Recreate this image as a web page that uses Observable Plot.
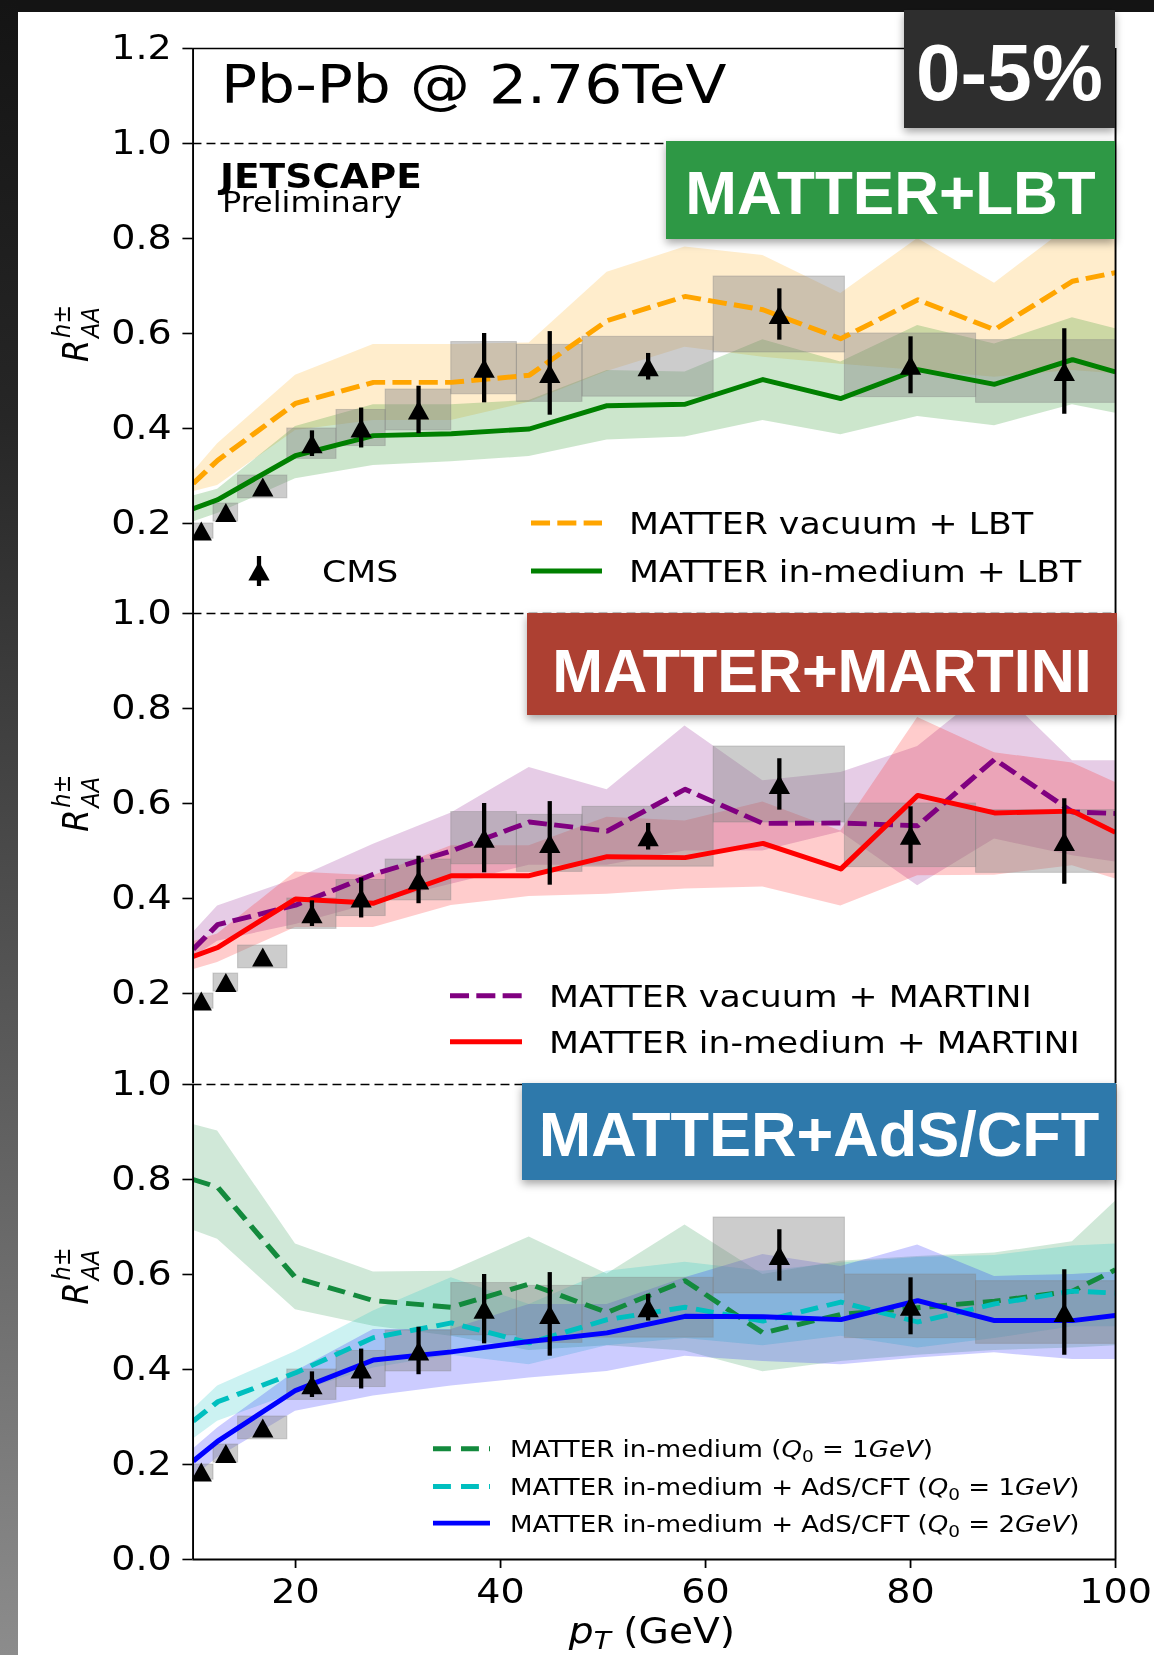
<!DOCTYPE html>
<html><head><meta charset="utf-8">
<script src="https://cdn.jsdelivr.net/npm/d3@7"></script>
<script src="https://cdn.jsdelivr.net/npm/@observablehq/plot@0.6"></script>
<style>
html,body{margin:0;padding:0;background:#fff;}
#page{position:relative;width:1154px;height:1655px;overflow:hidden;background:#fff;}
#topstrip{position:absolute;left:0;top:0;width:1154px;height:12px;background:#141414;}
#leftstrip{position:absolute;left:0;top:0;width:18px;height:1655px;background:linear-gradient(#141414,#262626 25%,#555 60%,#8c8c8c);}
#stretch{position:absolute;left:0;top:0;width:1030.357px;height:1655px;transform:scaleX(1.12);transform-origin:0 0;}
#stretch svg{position:absolute;left:0;}
#overlay{position:absolute;left:0;top:0;}
</style></head><body>
<div id="page"><div id="stretch"></div><div id="topstrip"></div><div id="leftstrip"></div><svg id="overlay" width="1154" height="1655"></svg></div>
<script>
// ---------------- data ----------------
const modelPt = [10, 12.4, 20, 27.6, 35.2, 42.8, 50.4, 58, 65.6, 73.2, 80.7, 88.2, 95.8, 100];

// MATTER+LBT panel
const lbtVac   = [0.284, 0.333, 0.453, 0.497, 0.497, 0.512, 0.627, 0.678, 0.650, 0.589, 0.671, 0.608, 0.710, 0.728];
const lbtVacHi = [0.308, 0.368, 0.512, 0.577, 0.577, 0.580, 0.729, 0.782, 0.764, 0.684, 0.800, 0.706, 0.830, 0.850];
const lbtVacLo = [0.267, 0.280, 0.396, 0.417, 0.417, 0.455, 0.520, 0.571, 0.550, 0.535, 0.522, 0.508, 0.522, 0.515];
const lbtMed   = [0.231, 0.250, 0.343, 0.385, 0.389, 0.399, 0.448, 0.451, 0.503, 0.463, 0.524, 0.493, 0.545, 0.519];
const lbtMedHi = [0.258, 0.272, 0.404, 0.450, 0.450, 0.459, 0.522, 0.519, 0.587, 0.540, 0.617, 0.578, 0.633, 0.610];
const lbtMedLo = [0.203, 0.221, 0.294, 0.322, 0.330, 0.341, 0.376, 0.382, 0.417, 0.387, 0.425, 0.406, 0.450, 0.432];

// MATTER+MARTINI panel
const martiniVac   = [0.293, 0.345, 0.386, 0.451, 0.500, 0.561, 0.542, 0.630, 0.558, 0.559, 0.553, 0.693, 0.582, 0.579];
const martiniVacHi = [0.328, 0.384, 0.441, 0.514, 0.580, 0.676, 0.629, 0.763, 0.648, 0.665, 0.720, 0.850, 0.690, 0.690];
const martiniVacLo = [0.275, 0.310, 0.345, 0.390, 0.430, 0.470, 0.470, 0.500, 0.500, 0.540, 0.427, 0.525, 0.490, 0.477];
const martiniMed   = [0.278, 0.297, 0.399, 0.390, 0.448, 0.448, 0.488, 0.486, 0.516, 0.462, 0.617, 0.580, 0.584, 0.539];
const martiniMedHi = [0.309, 0.325, 0.456, 0.448, 0.511, 0.511, 0.571, 0.563, 0.603, 0.542, 0.781, 0.707, 0.685, 0.644];
const martiniMedLo = [0.250, 0.265, 0.339, 0.339, 0.385, 0.404, 0.409, 0.420, 0.424, 0.384, 0.448, 0.449, 0.469, 0.441];

// MATTER+AdS/CFT panel
const adsMatter   = [0.800, 0.784, 0.593, 0.545, 0.531, 0.580, 0.520, 0.587, 0.477, 0.516, 0.530, 0.544, 0.565, 0.610];
const adsMatterHi = [0.916, 0.902, 0.664, 0.605, 0.607, 0.679, 0.601, 0.704, 0.600, 0.628, 0.638, 0.645, 0.669, 0.754];
const adsMatterLo = [0.693, 0.674, 0.526, 0.491, 0.470, 0.440, 0.450, 0.439, 0.395, 0.417, 0.430, 0.440, 0.445, 0.450];
const adsQ1   = [0.291, 0.332, 0.393, 0.467, 0.498, 0.456, 0.505, 0.531, 0.502, 0.542, 0.500, 0.538, 0.565, 0.561];
const adsQ1Hi = [0.316, 0.365, 0.438, 0.523, 0.593, 0.537, 0.607, 0.626, 0.607, 0.624, 0.636, 0.640, 0.660, 0.664];
const adsQ1Lo = [0.253, 0.291, 0.351, 0.403, 0.430, 0.410, 0.450, 0.465, 0.450, 0.470, 0.445, 0.465, 0.490, 0.490];
const adsQ2   = [0.207, 0.249, 0.356, 0.420, 0.437, 0.459, 0.477, 0.512, 0.511, 0.505, 0.545, 0.503, 0.503, 0.514];
const adsQ2Hi = [0.232, 0.277, 0.396, 0.484, 0.484, 0.537, 0.537, 0.593, 0.642, 0.617, 0.662, 0.596, 0.600, 0.605];
const adsQ2Lo = [0.172, 0.214, 0.312, 0.344, 0.365, 0.382, 0.396, 0.428, 0.417, 0.410, 0.424, 0.435, 0.421, 0.421];

// CMS data
const cmsPt   = [10.8, 13.2, 16.8, 21.6, 26.4, 32.0, 38.4, 44.8, 54.4, 67.2, 80.0, 95.0];
const cmsPtLo = [9.6, 12.0, 14.4, 19.2, 24.0, 28.8, 35.2, 41.6, 48.0, 60.8, 73.6, 86.4];
const cmsPtHi = [12.0, 14.4, 19.2, 24.0, 28.8, 35.2, 41.6, 48.0, 60.8, 73.6, 86.4, 103.6];
const cmsRaa  = [0.184, 0.223, 0.277, 0.368, 0.401, 0.439, 0.527, 0.516, 0.530, 0.640, 0.533, 0.520];
const cmsStat = [0.005, 0.006, 0.007, 0.027, 0.042, 0.050, 0.073, 0.088, 0.028, 0.054, 0.060, 0.090];
const cmsSys  = [0.016, 0.019, 0.024, 0.032, 0.038, 0.043, 0.055, 0.060, 0.063, 0.080, 0.067, 0.066];

// ticks and texts
const yTicksTop = [0.2, 0.4, 0.6, 0.8, 1.0, 1.2];
const yTicksMid = [0.2, 0.4, 0.6, 0.8, 1.0];
const yTicksBot = [0.0, 0.2, 0.4, 0.6, 0.8, 1.0];
const xTicks = [20, 40, 60, 80, 100];
const legendTop = ["MATTER vacuum + LBT", "MATTER in-medium + LBT"];
const legendMid = ["MATTER vacuum + MARTINI", "MATTER in-medium + MARTINI"];
const legendBot = ["MATTER in-medium", "MATTER in-medium + AdS/CFT", "MATTER in-medium + AdS/CFT"];
const legendBotQ = ["1", "1", "2"];
const panelTitles = ["MATTER+LBT", "MATTER+MARTINI", "MATTER+AdS/CFT"];

// ---------------- layout ----------------
const S = 1.12;                 // horizontal stretch of the original figure
const W = 1154 / S;
const ML = 192.5 / S;
const MR = W - 1115 / S;
const X = (v) => v / S;
const LW = 4.9;                 // model line width
const MR_R = 9.5;               // CMS marker radius

function rows(m, lo, hi) { return modelPt.map((x, i) => ({x, y: m[i], lo: lo[i], hi: hi[i]})); }
const cms = cmsPt.map((x, i) => ({
  x, x1: cmsPtLo[i], x2: cmsPtHi[i], y: cmsRaa[i],
  s1: cmsRaa[i] - cmsSys[i], s2: cmsRaa[i] + cmsSys[i],
  e1: cmsRaa[i] - cmsStat[i], e2: cmsRaa[i] + cmsStat[i]
}));
const triUp = {draw(ctx, size) { const r = Math.sqrt(size / Math.PI); ctx.moveTo(0, -r); ctx.lineTo(r, r); ctx.lineTo(-r, r); ctx.closePath(); }};

const band = (d, c) => Plot.areaY(d, {x: "x", y1: "lo", y2: "hi", fill: c, fillOpacity: 0.2, clip: true});
const line = (d, c, dash) => Plot.line(d, {x: "x", y: "y", stroke: c, strokeWidth: LW, strokeDasharray: dash,
  strokeLinecap: "butt", strokeLinejoin: "round", clip: true});
const cmsBoxes = () => Plot.rect(cms, {x1: "x1", x2: "x2", y1: "s1", y2: "s2", fill: "#808080", fillOpacity: 0.4,
  stroke: "#808080", strokeOpacity: 0.35, strokeWidth: 1, clip: true});
const cmsPoints = () => [
  Plot.ruleX(cms, {x: "x", y1: "e1", y2: "e2", stroke: "black", strokeWidth: 3.8, clip: true}),
  Plot.dot(cms, {x: "x", y: "y", r: MR_R, symbol: triUp, fill: "black", clip: true})
];
const yAxis = (ticks) => Plot.axisY({ticks, tickSize: 9, tickPadding: 10, fontSize: 34, strokeWidth: 1.6,
  tickFormat: d3.format(".1f"), label: null});

function makePanel({T, H, MT, MB, yDomain, marks, xAxis}) {
  const svg = Plot.plot({
    width: W, height: H, marginLeft: ML, marginRight: MR, marginTop: MT, marginBottom: MB,
    x: xAxis ? {domain: [10, 100]} : {domain: [10, 100], axis: null},
    y: {domain: yDomain},
    style: {background: "transparent", overflow: "visible", fontFamily: "DejaVu Sans", color: "black"},
    marks
  });
  svg.style.top = T + "px";
  document.getElementById("stretch").appendChild(svg);
  return svg;
}

function txt(svg, x, y, parts, size, anchor = "start") {
  const t = d3.select(svg).append("text").attr("x", x).attr("y", y).attr("font-size", size)
    .attr("font-family", "DejaVu Sans").attr("fill", "black").attr("text-anchor", anchor);
  for (const p of parts) {
    const s = t.append("tspan").text(p.t);
    if (p.italic) s.attr("font-style", "italic");
    if (p.bold) s.attr("font-weight", "bold");
    if (p.size) s.attr("font-size", p.size);
    if (p.dy) s.attr("dy", p.dy);
  }
  return t;
}
function legLine(svg, x1, x2, y, color, dash) {
  d3.select(svg).append("line").attr("x1", X(x1)).attr("x2", X(x2)).attr("y1", y).attr("y2", y)
    .attr("stroke", color).attr("stroke-width", LW).attr("stroke-dasharray", dash || null);
}
function yLabel(svg, xOut, cyOut, T) {
  const g = d3.select(svg).append("g").attr("transform", `translate(${X(xOut)},${cyOut - T}) rotate(-90)`)
    .attr("font-family", "DejaVu Sans").attr("fill", "black").attr("text-anchor", "start");
  g.append("text").attr("x", -28).attr("y", 0).attr("font-size", 32).attr("font-style", "italic").text("R");
  g.append("text").attr("x", -4).attr("y", 10).attr("font-size", 22.5).attr("font-style", "italic").text("AA");
  g.append("text").attr("x", -4).attr("y", -16.5).attr("font-size", 22.5).html('<tspan font-style="italic">h</tspan>±');
}

// ---------------- top panel ----------------
const dVac = rows(lbtVac, lbtVacLo, lbtVacHi), dMed = rows(lbtMed, lbtMedLo, lbtMedHi);
const T1 = 18;
const pTop = makePanel({T: T1, H: 30 + 565.25 + 10, MT: 30, MB: 10, yDomain: [0.01, 1.2], marks: [
  band(dVac, "orange"), band(dMed, "green"),
  cmsBoxes(),
  line(dVac, "orange", "17,6.5"), line(dMed, "green"),
  Plot.ruleY([1.0], {stroke: "black", strokeWidth: 1.6, strokeDasharray: "8,4.5"}),
  ...cmsPoints(),
  Plot.ruleX([10, 100], {stroke: "black", strokeWidth: 1.7}),
  Plot.ruleY([1.2], {stroke: "black", strokeWidth: 1.7}),
  yAxis(yTicksTop)
]});
txt(pTop, X(221), 103 - T1, [{t: "Pb-Pb @ 2.76TeV"}], 53.5);
txt(pTop, X(220), 188 - T1, [{t: "JETSCAPE", bold: true}], 33.5);
txt(pTop, X(222), 212 - T1, [{t: "Preliminary"}], 28.5);
legLine(pTop, 531, 602, 523 - T1, "orange", "17,6.5");
legLine(pTop, 531, 602, 571 - T1, "green");
txt(pTop, X(629), 534 - T1, [{t: legendTop[0]}], 31);
txt(pTop, X(629), 582 - T1, [{t: legendTop[1]}], 31);
d3.select(pTop).append("line").attr("x1", X(259)).attr("x2", X(259)).attr("y1", 556 - T1).attr("y2", 586 - T1)
  .attr("stroke", "black").attr("stroke-width", 3.8);
d3.select(pTop).append("path").attr("transform", `translate(${X(259)},${571 - T1})`)
  .attr("d", d3.symbol(triUp, MR_R * MR_R * Math.PI)()).attr("fill", "black");
txt(pTop, X(322), 582 - T1, [{t: "CMS"}], 31);
yLabel(pTop, 88, 334, T1);

// ---------------- middle panel ----------------
const mVac = rows(martiniVac, martiniVacLo, martiniVacHi), mMed = rows(martiniMed, martiniMedLo, martiniMedHi);
const T2 = 583.3;
const pMid = makePanel({T: T2, H: 30 + 470.25 + 10, MT: 30, MB: 10, yDomain: [0.01, 1.0], marks: [
  band(mVac, "purple"), band(mMed, "red"),
  cmsBoxes(),
  line(mVac, "purple", "17,6.5"), line(mMed, "red"),
  Plot.ruleY([1.0], {stroke: "black", strokeWidth: 1.6, strokeDasharray: "8,4.5"}),
  ...cmsPoints(),
  Plot.ruleX([10, 100], {stroke: "black", strokeWidth: 1.7}),
  yAxis(yTicksMid)
]});
legLine(pMid, 450, 522, 996 - T2, "purple", "17,6.5");
legLine(pMid, 450, 522, 1042 - T2, "red");
txt(pMid, X(549), 1007.3 - T2, [{t: legendMid[0]}], 31);
txt(pMid, X(549), 1053.3 - T2, [{t: legendMid[1]}], 31);
yLabel(pMid, 88, 804, T2);

// ---------------- bottom panel ----------------
const aM = rows(adsMatter, adsMatterLo, adsMatterHi), a1 = rows(adsQ1, adsQ1Lo, adsQ1Hi), a2 = rows(adsQ2, adsQ2Lo, adsQ2Hi);
const T3 = 1053.55;
const pBot = makePanel({T: T3, H: 30 + 475 + 101.45, MT: 30, MB: 101.45, yDomain: [0, 1.0], xAxis: true, marks: [
  band(aM, "#138a3d"), band(a1, "#00bfbf"), band(a2, "blue"),
  cmsBoxes(),
  line(aM, "#138a3d", "16,8"), line(a1, "#00bfbf", "16,8"), line(a2, "blue"),
  Plot.ruleY([1.0], {stroke: "black", strokeWidth: 1.6, strokeDasharray: "8,4.5"}),
  ...cmsPoints(),
  Plot.ruleX([10, 100], {stroke: "black", strokeWidth: 1.7}),
  Plot.ruleY([0], {stroke: "black", strokeWidth: 1.9}),
  yAxis(yTicksBot),
  Plot.axisX({ticks: xTicks, tickSize: 9, tickPadding: 10.5, fontSize: 34, strokeWidth: 1.6, tickFormat: d3.format("d"), label: null})
]});
const botRows = [1448.3, 1486, 1522.7];
const botColors = ["#138a3d", "#00bfbf", "blue"];
const botDash = ["16,9", "16,9", null];
botRows.forEach((yy, i) => {
  legLine(pBot, 433, 490, yy - T3, botColors[i], botDash[i]);
  txt(pBot, X(510), yy + 8.5 - T3, [
    {t: legendBot[i] + " ("}, {t: "Q", italic: true}, {t: "0", size: 16.5, dy: 5},
    {t: " = " + legendBotQ[i], dy: -5}, {t: "GeV", italic: true}, {t: ")"}
  ], 23.3);
});
txt(pBot, X(652), 1643 - T3, [{t: "p", italic: true}, {t: "T", italic: true, size: 25, dy: 6}, {t: " (GeV)", dy: -6}], 35, "middle");
yLabel(pBot, 88, 1276, T3);

// ---------------- overlay label boxes ----------------
const ov = d3.select("#overlay");
const defs = ov.append("defs");
const f = defs.append("filter").attr("id", "sh").attr("x", "-10%").attr("y", "-10%").attr("width", "120%").attr("height", "130%");
f.append("feDropShadow").attr("dx", 0).attr("dy", 4).attr("stdDeviation", 4).attr("flood-color", "#000").attr("flood-opacity", 0.35);
const boxes = [
  {x: 904, y: 10, w: 211, h: 118, fill: "#2f2f2f", text: "0-5%", size: 80, base: 100},
  {x: 666, y: 141, w: 449, h: 98, fill: "#2f9844", text: panelTitles[0], size: 62, base: 214},
  {x: 527, y: 613, w: 590, h: 102, fill: "#ad4131", text: panelTitles[1], size: 61, base: 691.5},
  {x: 522, y: 1083, w: 594, h: 97, fill: "#2d79ab", text: panelTitles[2], size: 63, base: 1156}
];
for (const b of boxes) {
  ov.append("rect").attr("x", b.x).attr("y", b.y).attr("width", b.w).attr("height", b.h).attr("fill", b.fill).attr("filter", "url(#sh)");
  ov.append("text").attr("x", b.x + b.w / 2).attr("y", b.base).attr("text-anchor", "middle")
    .attr("font-family", "Liberation Sans, Arial, sans-serif").attr("font-weight", "bold")
    .attr("font-size", b.size).attr("fill", "white").text(b.text);
}
</script>
</body></html>
